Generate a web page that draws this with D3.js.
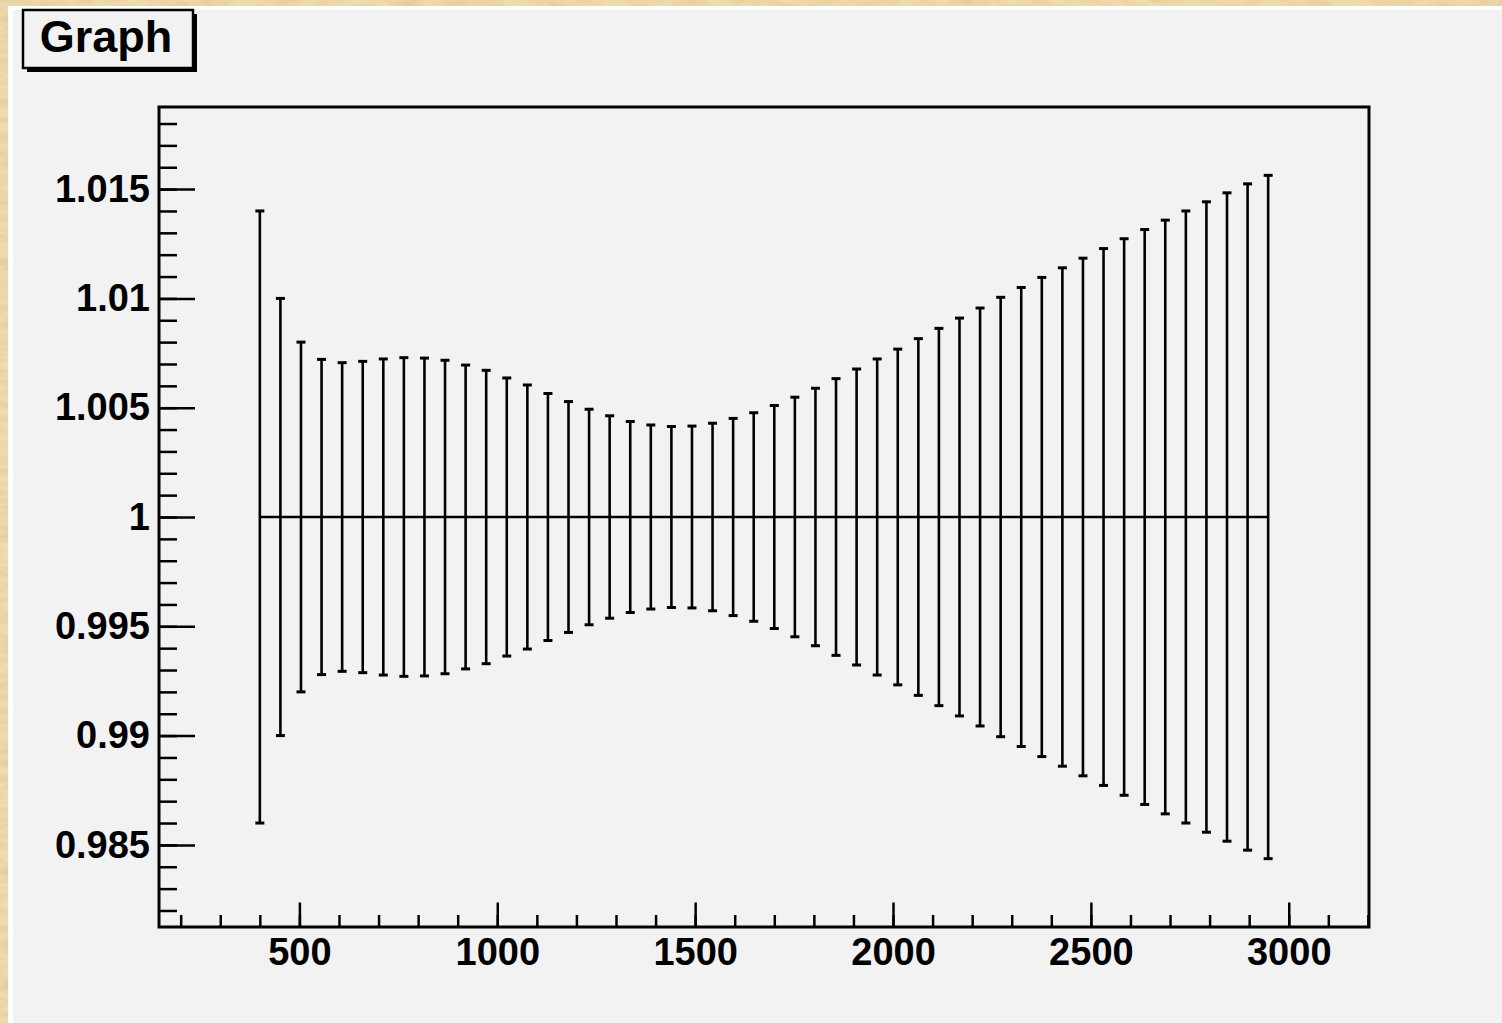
<!DOCTYPE html>
<html>
<head>
<meta charset="utf-8">
<script src="https://cdn.jsdelivr.net/npm/d3@7"></script>
<style>
  body { margin: 0; background: #ecd7ab; }
  svg { display: block; }
</style>
</head>
<body>
<div id="chart"></div>
<script>
var xValues = [400, 452, 504, 556, 608, 660, 712, 764, 816, 868,
  920, 972, 1024, 1076, 1128, 1180, 1232, 1284, 1336, 1388,
  1440, 1492, 1544, 1596, 1648, 1700, 1752, 1804, 1856, 1908,
  1960, 2012, 2064, 2116, 2168, 2220, 2272, 2324, 2376, 2428,
  2480, 2532, 2584, 2636, 2688, 2740, 2792, 2844, 2896, 2948];

var yValues = [1, 1, 1, 1, 1, 1, 1, 1, 1, 1,
  1, 1, 1, 1, 1, 1, 1, 1, 1, 1,
  1, 1, 1, 1, 1, 1, 1, 1, 1, 1,
  1, 1, 1, 1, 1, 1, 1, 1, 1, 1,
  1, 1, 1, 1, 1, 1, 1, 1, 1, 1];

var yErrors = [0.0140, 0.0100, 0.0080, 0.00721, 0.00706, 0.00712, 0.00723, 0.00729, 0.00727, 0.00717,
  0.00695, 0.00671, 0.00636, 0.00604, 0.00565, 0.00528, 0.00493, 0.00463, 0.00437, 0.00421,
  0.00414, 0.00416, 0.00429, 0.00451, 0.00477, 0.00510, 0.00548, 0.00589, 0.00633, 0.00677,
  0.00723, 0.00768, 0.00816, 0.00863, 0.00910, 0.00956, 0.01005, 0.01050, 0.01096, 0.01140,
  0.01184, 0.01228, 0.01273, 0.01315, 0.01358, 0.01400, 0.01442, 0.01483, 0.01524, 0.01563];

var xTickValues = [500, 1000, 1500, 2000, 2500, 3000];
var xTickLabels = ['500', '1000', '1500', '2000', '2500', '3000'];
var yTickValues = [0.985, 0.99, 0.995, 1, 1.005, 1.01, 1.015];
var yTickLabels = ['0.985', '0.99', '0.995', '1', '1.005', '1.01', '1.015'];

var title = 'Graph';

var width = 1502, height = 1023;
var frame = {left: 159, right: 1369, top: 107, bottom: 927};
var font = '"Liberation Sans", Arial, Helvetica, sans-serif';

var points = xValues.map(function(x, i){
  return {x: x, y: yValues[i], err: yErrors[i]};
});

// root style ranges: data extent plus 10% each side
var xMin = d3.min(xValues), xMax = d3.max(xValues);
var xPad = (xMax - xMin) * 0.1;
var yLo = d3.min(points, function(d){ return d.y - d.err; });
var yHi = d3.max(points, function(d){ return d.y + d.err; });
var yPad = (yHi - yLo) * 0.1;

var x = d3.scaleLinear()
  .domain([xMin - xPad, xMax + xPad])
  .range([frame.left, frame.right]);

var y = d3.scaleLinear()
  .domain([yLo - yPad, yHi + yPad])
  .range([frame.bottom, frame.top]);

var svg = d3.select('#chart').append('svg')
  .attr('width', width)
  .attr('height', height);

var defs = svg.append('defs');
var wood = defs.append('filter').attr('id', 'wood')
  .attr('x', 0).attr('y', 0).attr('width', 1).attr('height', 1);
wood.append('feTurbulence')
  .attr('type', 'fractalNoise')
  .attr('baseFrequency', '0.04 0.12')
  .attr('numOctaves', 3)
  .attr('seed', 7);
wood.append('feColorMatrix')
  .attr('type', 'matrix')
  .attr('values', '0 0 0 0 0.6  0 0 0 0 0.45  0 0 0 0 0.2  0.7 0 0 0 -0.25');

// canvas background
svg.append('rect')
  .attr('width', width).attr('height', height)
  .attr('fill', '#efdbb0');
svg.append('rect')
  .attr('width', width).attr('height', height)
  .attr('filter', 'url(#wood)');

// pad
svg.append('rect')
  .attr('x', 8).attr('y', 6)
  .attr('width', width - 8).attr('height', height - 6)
  .attr('fill', '#ffffff');
svg.append('rect')
  .attr('x', 13).attr('y', 10)
  .attr('width', width - 13).attr('height', height - 10)
  .attr('fill', '#f2f2f2');

// title box
svg.append('rect')
  .attr('x', 27).attr('y', 14)
  .attr('width', 170).attr('height', 58)
  .attr('fill', '#000');
svg.append('rect')
  .attr('x', 23).attr('y', 10)
  .attr('width', 170).attr('height', 58)
  .attr('fill', '#f2f2f2')
  .attr('stroke', '#000')
  .attr('stroke-width', 2.5);
svg.append('text')
  .attr('x', 106).attr('y', 52)
  .attr('text-anchor', 'middle')
  .attr('font-family', font)
  .attr('font-weight', 'bold')
  .attr('font-size', 45)
  .text(title);

// minor ticks
var yMinor = d3.range(Math.ceil(y.domain()[0] * 1000), Math.floor(y.domain()[1] * 1000) + 1)
  .map(function(v){ return v / 1000; });
var xMinor = d3.range(Math.ceil(x.domain()[0] / 100), Math.floor(x.domain()[1] / 100) + 1)
  .map(function(v){ return v * 100; });

var tickStyle = function(g){
  g.select('.domain').remove();
  g.selectAll('.tick line').attr('stroke', '#000').attr('stroke-width', 2.5);
  g.selectAll('.tick text')
    .attr('fill', '#000')
    .attr('font-family', font)
    .attr('font-weight', 'bold')
    .attr('font-size', 38);
};

svg.append('g')
  .attr('transform', 'translate(' + frame.left + ',0)')
  .call(d3.axisLeft(y).tickValues(yMinor).tickSize(-18).tickFormat(''))
  .call(tickStyle);

svg.append('g')
  .attr('transform', 'translate(' + frame.left + ',0)')
  .call(d3.axisLeft(y).tickValues(yTickValues).tickSize(-36).tickPadding(9)
    .tickFormat(function(d, i){ return yTickLabels[i]; }))
  .call(tickStyle);

svg.append('g')
  .attr('transform', 'translate(0,' + frame.bottom + ')')
  .call(d3.axisBottom(x).tickValues(xMinor).tickSize(-12).tickFormat(''))
  .call(tickStyle);

svg.append('g')
  .attr('transform', 'translate(0,' + frame.bottom + ')')
  .call(d3.axisBottom(x).tickValues(xTickValues).tickSize(-24.5).tickPadding(11)
    .tickFormat(function(d, i){ return xTickLabels[i]; }))
  .call(tickStyle);

// frame
svg.append('rect')
  .attr('x', frame.left).attr('y', frame.top)
  .attr('width', frame.right - frame.left)
  .attr('height', frame.bottom - frame.top)
  .attr('fill', 'none')
  .attr('stroke', '#000')
  .attr('stroke-width', 3);

// graph line
var line = d3.line()
  .x(function(d){ return x(d.x); })
  .y(function(d){ return y(d.y); });

svg.append('path')
  .datum(points)
  .attr('d', line)
  .attr('fill', 'none')
  .attr('stroke', '#000')
  .attr('stroke-width', 2.3);

// error bars
var bars = svg.selectAll('.bar').data(points)
  .enter().append('g')
  .attr('class', 'bar');

bars.append('line')
  .attr('x1', function(d){ return x(d.x); })
  .attr('x2', function(d){ return x(d.x); })
  .attr('y1', function(d){ return y(d.y + d.err); })
  .attr('y2', function(d){ return y(d.y - d.err); })
  .attr('stroke', '#000')
  .attr('stroke-width', 2.6);

bars.selectAll('.cap')
  .data(function(d){ return [d.y + d.err, d.y - d.err].map(function(v){ return {x: d.x, v: v}; }); })
  .enter().append('line')
  .attr('class', 'cap')
  .attr('x1', function(d){ return x(d.x) - 4.5; })
  .attr('x2', function(d){ return x(d.x) + 4.5; })
  .attr('y1', function(d){ return y(d.v); })
  .attr('y2', function(d){ return y(d.v); })
  .attr('stroke', '#000')
  .attr('stroke-width', 3);
</script>
</body>
</html>
